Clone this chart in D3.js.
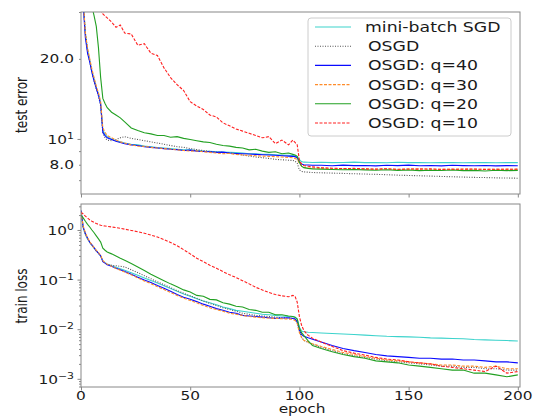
<!DOCTYPE html>
<html>
<head>
<meta charset="utf-8">
<script src="https://cdn.jsdelivr.net/npm/d3@7"></script>
<style>
  body { margin: 0; background: #fff; }
  text { font-family: "DejaVu Sans", sans-serif; fill: #1a1a1a; }
</style>
</head>
<body>
<svg id="chart"></svg>
<script>
let epochs = [0,1,2,3,4,5,6,7,8,9,10,11,12, 14,16,18,20,
    23,26,29,32,35,38,41,44,47,50,53,56,59,62,65,68,71,74,77,80,83,86,89,92,95,
    97,98,99,100,101,102, 104,106,
    110,115,120,125,130,135,140,145,150,155,160,165,170,175,180,185,190,195,200];

let names = ["mini-batch SGD", "OSGD", "OSGD: q=40", "OSGD: q=30", "OSGD: q=20", "OSGD: q=10"];

// test error (%)
let testSgd = [85,33,25,21.5,19.8,18,16.8,15.6,14.8,13.6,10.8,10.4,10.2, 10.0,9.85,9.75,9.65,
    9.55,9.5,9.4,9.35,9.28,9.25,9.2,9.15,9.1,9.1,9.05,9.0,8.98,8.95,8.93,8.9,8.88,8.85,8.8,8.8,8.76,8.75,8.72,8.7,8.68,
    8.66,8.64,8.6,8.35,8.22,8.18, 8.17,8.16,
    8.17,8.15,8.16,8.18,8.15,8.16,8.14,8.17,8.15,8.16,8.14,8.15,8.16,8.14,8.15,8.16,8.14,8.15,8.15];
let testOsgd = [85,33,25,21.5,19.5,17.8,16.5,15.4,14.5,13.3,10.5,10.1,9.9, 9.85,9.95,10.1,10.2,
    10.05,9.95,9.85,9.75,9.65,9.55,9.45,9.35,9.3,9.2,9.12,9.05,8.98,8.92,8.9,8.85,8.78,8.7,8.62,8.55,8.5,8.45,8.38,8.35,8.32,
    8.3,8.25,8.1,7.65,7.55,7.52, 7.5,7.48,
    7.46,7.44,7.42,7.4,7.38,7.36,7.34,7.31,7.29,7.27,7.25,7.23,7.21,7.19,7.17,7.16,7.14,7.13,7.12];
let testQ40 = [85,32,24,21,19.5,17.8,16.5,15.5,14.6,13.5,10.6,10.3,10.1, 9.95,9.8,9.7,9.6,
    9.5,9.45,9.35,9.3,9.25,9.2,9.15,9.12,9.05,9.08,9.0,8.97,8.95,8.9,8.92,8.85,8.82,8.8,8.78,8.75,8.72,8.7,8.68,8.65,8.62,
    8.6,8.58,8.5,8.2,8.05,8.0, 7.98,7.96,
    7.96,7.93,7.97,7.94,7.95,7.92,7.96,7.94,7.97,7.93,7.95,7.92,7.96,7.94,7.93,7.95,7.92,7.94,7.93];
let testQ30 = [85,34,25,22,20,18.3,17,15.8,14.9,13.8,11.0,10.6,10.3, 10.1,9.9,9.75,9.65,
    9.5,9.4,9.38,9.3,9.25,9.2,9.15,9.1,9.05,9.0,9.02,8.95,8.9,8.85,8.8,8.82,8.75,8.7,8.68,8.65,8.62,8.6,8.58,8.55,8.52,
    8.5,8.45,8.38,8.1,7.9,7.82, 7.78,7.76,
    7.75,7.72,7.74,7.7,7.72,7.69,7.71,7.68,7.7,7.72,7.69,7.7,7.68,7.71,7.69,7.7,7.68,7.7,7.69];
let testQ20 = [90,62,50,42,36,31.5,29,26.5,22,17,14.2,13.6,13.1, 12.6,12.3,12.0,11.6,
    11.0,10.75,10.55,10.45,10.3,10.3,10.15,10.2,10.05,9.95,9.85,9.75,9.7,9.55,9.45,9.4,9.3,9.25,9.1,9.15,9.0,8.9,8.95,8.8,8.85,
    8.75,8.7,8.6,8.15,7.9,7.8, 7.75,7.72,
    7.7,7.68,7.66,7.68,7.65,7.63,7.66,7.62,7.64,7.6,7.63,7.61,7.64,7.6,7.62,7.58,7.63,7.6,7.62];
let testQ10 = [90,80,70,60,52,45,40,36,33,30.5,29.5,29,28.5, 27.5,26.3,26.8,25.0,
    24.8,22.5,22.8,21.0,20.6,18.5,17.0,16.0,15.2,13.8,13.3,12.9,12.3,12.1,11.5,11.2,10.9,10.7,10.5,10.3,10.1,10.2,9.6,9.9,9.5,
    9.9,9.7,9.5,8.3,8.05,7.95, 7.9,7.85,
    7.8,7.76,7.74,7.75,7.72,7.7,7.73,7.69,7.71,7.7,7.72,7.68,7.7,7.69,7.71,7.68,7.7,7.69,7.7];

// train loss
let lossSgd = [2.4,1.1,0.82,0.66,0.56,0.49,0.43,0.38,0.34,0.3,0.235,0.22,0.207, 0.19,0.178,0.166,0.155,
    0.138,0.122,0.108,0.096,0.085,0.075,0.066,0.058,0.051,0.046,0.041,0.037,0.034,0.031,0.028,0.026,0.024,0.023,0.022,0.021,0.02,0.0195,0.019,0.0185,0.018,
    0.0178,0.0175,0.016,0.011,0.0092,0.0089, 0.0087,0.0086,
    0.0084,0.0082,0.008,0.0078,0.0076,0.0074,0.0072,0.0071,0.007,0.0069,0.0067,0.0066,0.0065,0.0064,0.0062,0.0061,0.006,0.0059,0.0058];
let lossOsgd = [2.4,1.1,0.83,0.67,0.56,0.49,0.43,0.38,0.34,0.3,0.235,0.215,0.205, 0.195,0.19,0.185,0.18,
    0.158,0.138,0.12,0.104,0.09,0.079,0.069,0.06,0.053,0.047,0.042,0.037,0.033,0.03,0.027,0.025,0.023,0.021,0.02,0.019,0.0185,0.018,0.0175,0.017,0.0168,
    0.0165,0.016,0.014,0.009,0.0068,0.006, 0.0054,0.005,
    0.0043,0.0037,0.0032,0.0029,0.0027,0.0025,0.0023,0.0022,0.0021,0.002,0.0019,0.0018,0.0018,0.0017,0.0017,0.0016,0.0016,0.0015,0.0015];
let lossQ40 = [2.5,1.15,0.85,0.68,0.57,0.5,0.44,0.38,0.34,0.3,0.23,0.215,0.2, 0.185,0.17,0.158,0.145,
    0.128,0.112,0.098,0.087,0.076,0.067,0.058,0.05,0.044,0.04,0.036,0.032,0.029,0.026,0.024,0.022,0.021,0.019,0.0185,0.018,0.0175,0.017,0.0165,0.0168,0.017,
    0.0165,0.016,0.014,0.0095,0.0078,0.0072, 0.0067,0.0063,
    0.0055,0.0047,0.0041,0.0037,0.0034,0.0031,0.0029,0.0028,0.0027,0.0026,0.0026,0.0025,0.0025,0.0024,0.0024,0.0023,0.0022,0.0022,0.0021];
let lossQ30 = [2.3,1.2,0.88,0.7,0.58,0.5,0.44,0.39,0.35,0.31,0.24,0.22,0.205, 0.185,0.168,0.155,0.142,
    0.125,0.108,0.094,0.083,0.072,0.063,0.055,0.048,0.042,0.038,0.034,0.03,0.027,0.025,0.023,0.021,0.02,0.019,0.018,0.0175,0.017,0.0168,0.0165,0.0163,0.016,
    0.0158,0.015,0.013,0.0085,0.0068,0.006, 0.0055,0.0051,
    0.0045,0.0039,0.0034,0.0031,0.0028,0.0026,0.0024,0.0023,0.0022,0.0021,0.002,0.0019,0.0019,0.0018,0.0018,0.0017,0.0018,0.0016,0.0016];
let lossQ20 = [2.0,1.75,1.5,1.3,1.15,1.0,0.88,0.76,0.66,0.57,0.43,0.39,0.36, 0.33,0.3,0.27,0.245,
    0.21,0.18,0.152,0.128,0.11,0.095,0.082,0.072,0.062,0.056,0.048,0.046,0.04,0.039,0.034,0.032,0.029,0.028,0.025,0.024,0.022,0.022,0.0195,0.0195,0.0185,
    0.018,0.0175,0.016,0.0105,0.0085,0.0075, 0.0058,0.0047,
    0.0041,0.0035,0.0031,0.0028,0.0026,0.0023,0.0022,0.0021,0.0019,0.0018,0.0017,0.0016,0.0015,0.0015,0.0013,0.0013,0.0012,0.0011,0.0012];
let lossQ10 = [2.3,2.1,1.9,1.75,1.6,1.5,1.42,1.35,1.3,1.25,1.22,1.2,1.18, 1.15,1.12,1.08,1.04,
    0.98,0.92,0.86,0.79,0.72,0.64,0.56,0.48,0.4,0.33,0.27,0.23,0.195,0.17,0.145,0.125,0.11,0.095,0.082,0.07,0.062,0.055,0.05,0.047,0.045,
    0.048,0.046,0.035,0.018,0.012,0.0095, 0.0075,0.0066,
    0.0055,0.0045,0.0037,0.0033,0.003,0.0027,0.0025,0.0024,0.0022,0.0021,0.002,0.0018,0.0017,0.0016,0.0015,0.0014,0.0018,0.0013,0.0014];

let xTicks = [0, 50, 100, 150, 200];
let topTicks = [[20, "20.0", ""], [10, "10", "1"], [8, "8.0", ""]];
let topMinor = [7, 8, 9, 20, 30];
let botTicks = [[1, "10", "0"], [0.1, "10", "\u22121"], [0.01, "10", "\u22122"], [0.001, "10", "\u22123"]];

let series = [
    { name: names[0], test: testSgd,  loss: lossSgd,  color: "#3cd3cc", dash: null },
    { name: names[1], test: testOsgd, loss: lossOsgd, color: "#555555", dash: "1,1.5" },
    { name: names[2], test: testQ40,  loss: lossQ40,  color: "#0a0aff", dash: null },
    { name: names[3], test: testQ30,  loss: lossQ30,  color: "#ff8c2a", dash: "3,1.5" },
    { name: names[4], test: testQ20,  loss: lossQ20,  color: "#22a022", dash: null },
    { name: names[5], test: testQ10,  loss: lossQ10,  color: "#ff2020", dash: "3,1.5" }
];

let w = 534;
let h = 417;
let SX = 1.28;   // the reference text is stretched sideways
let frameColor = "#888";

let svg = d3.select('#chart')
    .attr('width', w)
    .attr('height', h);

let xScale = d3.scaleLinear().domain([0, 201]).range([81, 520]);
let yTop = d3.scaleLog().domain([6.21, 30]).range([194, 12]);
let yBot = d3.scaleLog().domain([6.84e-4, 3.34]).range([387, 204]);

function stretchText(x, y, str, anchor, size) {
    return svg.append('text')
        .attr('transform', `translate(${x},${y}) scale(${SX},1)`)
        .attr('text-anchor', anchor)
        .style('font-size', size + 'px')
        .text(str);
}

function powLabel(y, base, exp, dy) {
    let t = svg.append('text')
        .attr('transform', `translate(74,${y + dy}) scale(${SX},1)`)
        .attr('text-anchor', 'end')
        .style('font-size', '12px');
    t.append('tspan').text(base);
    if (exp) {
        t.append('tspan').attr('dy', -5).style('font-size', '8.5px').text(exp);
    }
}

function drawPanel(yScale, key, clipId, minorTicks, showX) {
    let [yb, yt] = yScale.range();

    svg.append('clipPath').attr('id', clipId)
        .append('rect')
        .attr('x', 81).attr('y', yt)
        .attr('width', 439).attr('height', yb - yt);

    series.forEach(s => {
        let line = d3.line()
            .x((d, i) => xScale(epochs[i]))
            .y(d => yScale(d));
        svg.append('path')
            .datum(s[key])
            .attr('clip-path', `url(#${clipId})`)
            .attr('fill', 'none')
            .attr('stroke', s.color)
            .attr('stroke-width', 1.1)
            .attr('stroke-dasharray', s.dash)
            .attr('d', line);
    });

    // x ticks
    let xAxis = d3.axisBottom(xScale).tickValues(xTicks).tickSize(3.5).tickFormat('');
    let gx = svg.append('g').attr('transform', `translate(0,${yb})`).call(xAxis);
    gx.select('.domain').remove();
    gx.selectAll('line').attr('stroke', frameColor);

    // minor y ticks
    let yMinor = d3.axisLeft(yScale).tickValues(minorTicks).tickSize(2).tickFormat('');
    let gm = svg.append('g').attr('transform', 'translate(81,0)').call(yMinor);
    gm.select('.domain').remove();
    gm.selectAll('line').attr('stroke', frameColor);

    svg.append('rect')
        .attr('x', 81).attr('y', yt)
        .attr('width', 439).attr('height', yb - yt)
        .attr('fill', 'none')
        .attr('stroke', frameColor)
        .attr('stroke-width', 1);

    if (showX) {
        xTicks.forEach(v => stretchText(xScale(v), 400, v, 'middle', 12));
    }
}

// top panel: test error
drawPanel(yTop, 'test', 'clipTop', topMinor, false);
let gTopMajor = svg.append('g').attr('transform', 'translate(81,0)')
    .call(d3.axisLeft(yTop).tickValues([10]).tickSize(3.5).tickFormat(''));
gTopMajor.select('.domain').remove();
gTopMajor.selectAll('line').attr('stroke', frameColor);
topTicks.forEach(t => powLabel(yTop(t[0]), t[1], t[2], t[2] ? 5 : 4.5));

// bottom panel: train loss
let botMinor = [];
[1e-4, 1e-3, 1e-2, 1e-1, 1].forEach(dec => {
    for (let k = 2; k <= 9; k++) {
        let v = dec * k;
        if (v > yBot.domain()[0] && v < yBot.domain()[1]) botMinor.push(v);
    }
});
drawPanel(yBot, 'loss', 'clipBot', botMinor, true);
let gBotMajor = svg.append('g').attr('transform', 'translate(81,0)')
    .call(d3.axisLeft(yBot).tickValues(botTicks.map(t => t[0])).tickSize(3.5).tickFormat(''));
gBotMajor.select('.domain').remove();
gBotMajor.selectAll('line').attr('stroke', frameColor);
botTicks.forEach(t => powLabel(yBot(t[0]), t[1], t[2], 5));

// axis titles
svg.append('text')
    .attr('transform', `translate(27,105) scale(${SX},1) rotate(-90)`)
    .attr('text-anchor', 'middle')
    .style('font-size', '12px')
    .text('test error');
svg.append('text')
    .attr('transform', `translate(27,296) scale(${SX},1) rotate(-90)`)
    .attr('text-anchor', 'middle')
    .style('font-size', '12px')
    .text('train loss');
stretchText(302, 413, 'epoch', 'middle', 12);

// legend
let legend = svg.append('g');
legend.append('rect')
    .attr('x', 308).attr('y', 18)
    .attr('width', 203).attr('height', 118)
    .attr('rx', 3)
    .attr('fill', '#fff').attr('fill-opacity', 0.8)
    .attr('stroke', '#ccc');
let legY = d3.scalePoint().domain(names).range([27, 123]);
series.forEach((s, i) => {
    let y = legY(s.name);
    legend.append('line')
        .attr('x1', 315).attr('x2', 351)
        .attr('y1', y).attr('y2', y)
        .attr('stroke', s.color)
        .attr('stroke-width', 1.1)
        .attr('stroke-dasharray', s.dash);
    stretchText(i === 0 ? 365 : 368, y + 5, s.name, 'start', 13.5);
});
</script>
</body>
</html>
